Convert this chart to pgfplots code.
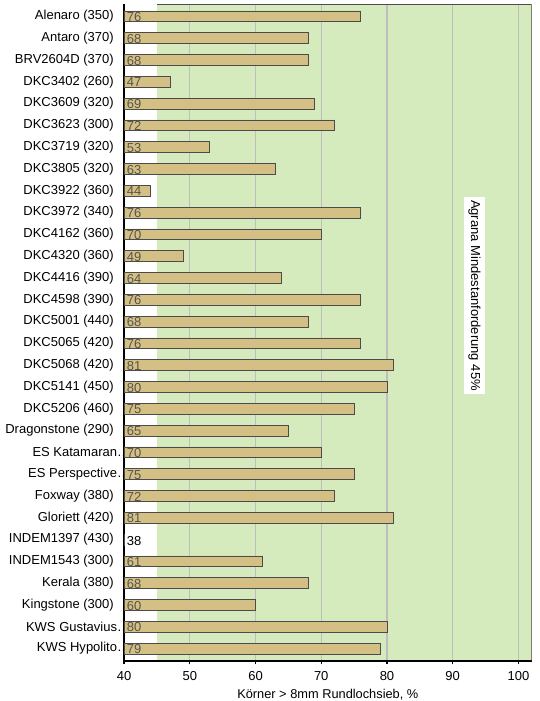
\documentclass[border=0pt]{standalone}
\usepackage{fontspec}
\setmainfont{Liberation Sans}
\usepackage{pgfplots}
\usepackage{pgfplotstable}
\pgfplotsset{compat=1.18}
\definecolor{bandgreen}{RGB}{213,235,190}
\definecolor{bartan}{RGB}{212,192,132}
\definecolor{barline}{RGB}{75,75,75}
\definecolor{valtext}{RGB}{88,84,76}
\definecolor{gridgray}{RGB}{190,190,190}

\pgfplotstableread{
i v
0 76
1 68
2 68
3 47
4 69
5 72
6 53
7 63
8 44
9 76
10 70
11 49
12 64
13 76
14 68
15 76
16 81
17 80
18 75
19 65
20 70
21 75
22 72
23 81
24 38
25 61
26 68
27 60
28 80
29 79
}\data

\begin{document}
\fontsize{9.75pt}{11.7pt}\selectfont
\begin{tikzpicture}
\begin{axis}[
  name=ax,
  set layers=standard,
  scale only axis,
  width=305.6pt, height=492.6pt,
  xmin=40, xmax=102,
  ymin=-0.57, ymax=29.57,
  y dir=reverse,
  axis x line=bottom, axis y line=left,
  axis line style={-, line width=1.5pt, black},
  xtick={40,50,...,100},
  xtick pos=bottom,
  tick align=outside,
  major tick length=2.5pt,
  xtick style={black, line width=1pt},
  ytick={0,...,29},
  ytick style={draw=none},
  yticklabels={Alenaro (350),Antaro (370),BRV2604D (370),DKC3402 (260),DKC3609 (320),DKC3623 (300),DKC3719 (320),DKC3805 (320),DKC3922 (360),DKC3972 (340),DKC4162 (360),DKC4320 (360),DKC4416 (390),DKC4598 (390),DKC5001 (440),DKC5065 (420),DKC5068 (420),DKC5141 (450),DKC5206 (460),Dragonstone (290),{ES Katamaran\rlap{…}\kern-2.5pt},{ES Perspective\rlap{…}\kern-2.5pt},Foxway (380),Gloriett (420),INDEM1397 (430),INDEM1543 (300),Kerala (380),Kingstone (300),{KWS Gustavius\rlap{…}\kern-2.5pt},{KWS Hypolito\rlap{…}\kern-2.5pt}},
  yticklabel style={font=\fontsize{9.75pt}{11.7pt}\selectfont, inner sep=0pt, xshift=-5pt},
  xticklabel style={font=\fontsize{9.75pt}{11.7pt}\selectfont, yshift=-1.5pt},
  /pgf/number format/assume math mode=true,
  xmajorgrids,
  major grid style={gridgray, line width=0.8pt},
  xlabel={Körner > 8mm Rundlochsieb, \%},
  xlabel style={font=\fontsize{9.6pt}{11.5pt}\selectfont, yshift=0pt},
  clip=true,
]
\addplot[on layer=axis background, fill=bandgreen, draw=none] coordinates {(45,-0.57) (102,-0.57) (102,29.57) (45,29.57)} -- cycle;
\addplot[barline, line width=0.7pt, mark=none] coordinates {(45,-0.57) (102,-0.57) (102,29.57)};
\addplot[xbar, bar width=0.5, fill=bartan, draw=barline, line width=0.6pt] table[x=v, y=i] {\data};
\addplot[draw=none, mark=none, nodes near coords, point meta=explicit,
  restrict expr to domain={\thisrow{v}}{40:200},
  nodes near coords align=horizontal,
  every node near coord/.append style={anchor=west, inner sep=0pt, xshift=2pt, yshift=-0.5pt, text=valtext, font=\fontsize{9.75pt}{11.7pt}\selectfont, /pgf/number format/assume math mode=true}]
  table[x expr=40, y=i, meta=v] {\data};
\addplot[draw=none, mark=none, nodes near coords, point meta=explicit,
  restrict expr to domain={\thisrow{v}}{0:39.9},
  nodes near coords align=horizontal,
  every node near coord/.append style={anchor=west, inner sep=0pt, xshift=2pt, yshift=-1.2pt, text=black, font=\fontsize{9.75pt}{11.7pt}\selectfont, /pgf/number format/assume math mode=true}]
  table[x expr=40, y=i, meta=v] {\data};
\node[rotate=-90, fill=white, inner xsep=2pt, inner ysep=3.5pt, font=\fontsize{9.75pt}{11.7pt}\selectfont] at (axis cs:93.3,12.8) {Agrana Mindestanforderung 45\%};
\end{axis}
\pgfresetboundingbox
\path ([xshift=-93pt,yshift=-30pt]ax.south west) rectangle ([xshift=5.6pt,yshift=3pt]ax.north east);
\end{tikzpicture}
\end{document}
